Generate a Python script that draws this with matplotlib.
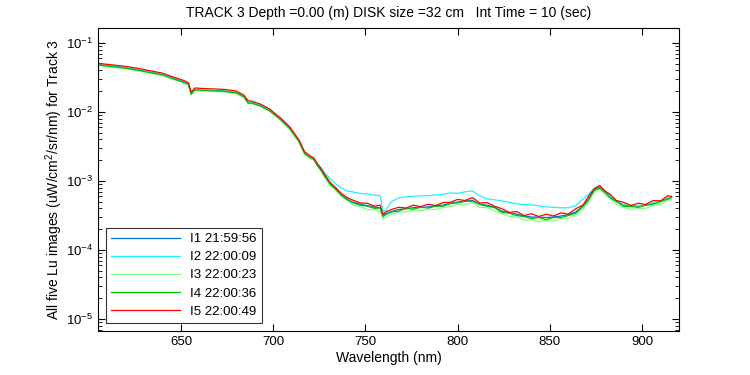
import matplotlib
matplotlib.use("Agg")
import matplotlib.pyplot as plt
from matplotlib.ticker import LogLocator, NullFormatter, MultipleLocator

# wavelength grid shared by all five scans (nm)
wavelength = [
    605, 612, 619, 626, 633, 640, 646, 651, 654, 655.5, 657.5, 662, 668, 674, 680, 684,
    686.5, 688, 693, 698, 704, 709, 714, 717, 720, 722, 724, 726, 728, 731, 734, 737, 740,
    743, 747, 751, 755, 758, 759.5, 761, 764, 768, 772, 776, 780, 784, 788, 792, 796,
    800, 804, 808, 812, 816, 820, 824, 828, 832, 836, 840, 844, 848, 852, 856, 860, 864,
    868, 871, 874, 877, 880, 883, 886, 890, 894, 898, 902, 906, 910, 914, 916,
]

lu_i1 = [
    4.84e-2, 4.60e-2, 4.38e-2, 4.09e-2, 3.76e-2, 3.47e-2, 3.03e-2, 2.74e-2, 2.52e-2, 1.83e-2,
    2.10e-2, 2.06e-2, 2.03e-2, 1.99e-2, 1.90e-2, 1.67e-2, 1.36e-2, 1.37e-2, 1.24e-2, 1.05e-2,
    7.78e-3, 5.76e-3, 3.74e-3, 2.51e-3, 2.20e-3, 2.06e-3, 1.68e-3, 1.43e-3, 1.17e-3, 8.95e-4,
    7.58e-4, 6.22e-4, 5.45e-4,
    4.95e-4, 4.60e-4, 4.40e-4, 4.15e-4, 4.10e-4, 3.15e-4, 3.35e-4, 3.60e-4, 3.85e-4, 3.95e-4,
    4.10e-4, 4.15e-4, 4.20e-4, 4.35e-4, 4.45e-4, 4.75e-4, 4.95e-4, 5.10e-4, 5.25e-4, 4.60e-4,
    4.45e-4, 4.15e-4, 3.65e-4, 3.45e-4, 3.30e-4, 3.10e-4, 3.00e-4, 3.00e-4, 2.95e-4, 3.00e-4,
    3.10e-4, 3.25e-4, 3.55e-4, 4.35e-4, 5.45e-4, 7.40e-4, 8.10e-4, 6.90e-4, 5.80e-4, 5.10e-4,
    4.45e-4, 4.30e-4, 4.35e-4, 4.45e-4, 4.75e-4, 5.10e-4, 5.60e-4, 5.85e-4,
]

lu_i2 = [
    4.84e-2, 4.60e-2, 4.38e-2, 4.09e-2, 3.76e-2, 3.47e-2, 3.03e-2, 2.74e-2, 2.52e-2, 1.83e-2,
    2.10e-2, 2.06e-2, 2.03e-2, 1.99e-2, 1.90e-2, 1.67e-2, 1.36e-2, 1.37e-2, 1.24e-2, 1.05e-2,
    7.78e-3, 5.76e-3, 3.74e-3, 2.51e-3, 2.20e-3, 2.06e-3, 1.75e-3, 1.55e-3, 1.30e-3, 1.07e-3,
    9.00e-4, 7.93e-4, 7.20e-4,
    6.94e-4, 6.60e-4, 6.49e-4, 6.20e-4, 6.08e-4, 3.60e-4, 3.70e-4, 4.98e-4, 5.69e-4, 5.88e-4,
    6.00e-4, 6.08e-4, 6.10e-4, 6.28e-4, 6.35e-4, 6.71e-4, 6.60e-4, 6.94e-4, 7.17e-4, 6.08e-4,
    5.50e-4, 5.32e-4, 5.14e-4, 4.90e-4, 4.66e-4, 4.55e-4, 4.51e-4, 4.35e-4, 4.21e-4, 4.15e-4,
    4.08e-4, 4.08e-4, 4.36e-4, 5.50e-4, 6.40e-4, 7.93e-4, 8.47e-4, 7.10e-4, 5.90e-4, 5.20e-4,
    4.55e-4, 4.40e-4, 4.40e-4, 4.50e-4, 4.80e-4, 5.10e-4, 5.70e-4, 5.90e-4,
]

lu_i3 = [
    4.70e-2, 4.46e-2, 4.25e-2, 3.97e-2, 3.65e-2, 3.36e-2, 2.94e-2, 2.66e-2, 2.45e-2, 1.78e-2,
    2.04e-2, 2.01e-2, 1.98e-2, 1.94e-2, 1.84e-2, 1.62e-2, 1.32e-2, 1.32e-2, 1.20e-2, 1.02e-2,
    7.55e-3, 5.60e-3, 3.62e-3, 2.44e-3, 2.13e-3, 2.00e-3, 1.63e-3, 1.38e-3, 1.13e-3, 8.65e-4,
    7.30e-4, 6.00e-4, 5.25e-4,
    4.50e-4, 4.25e-4, 3.85e-4, 3.85e-4, 3.65e-4, 2.85e-4, 3.00e-4, 3.30e-4, 3.50e-4, 3.60e-4,
    3.75e-4, 3.70e-4, 3.90e-4, 3.85e-4, 4.10e-4, 4.25e-4, 4.55e-4, 4.55e-4, 4.90e-4, 4.15e-4,
    4.10e-4, 3.70e-4, 3.35e-4, 3.05e-4, 3.00e-4, 2.70e-4, 2.75e-4, 2.55e-4, 2.70e-4, 2.60e-4,
    2.85e-4, 2.85e-4, 3.25e-4, 3.90e-4, 5.10e-4, 6.80e-4, 7.60e-4, 6.30e-4, 5.40e-4, 4.60e-4,
    4.15e-4, 3.85e-4, 4.00e-4, 4.00e-4, 4.45e-4, 4.55e-4, 5.20e-4, 5.40e-4,
]

lu_i4 = [
    4.80e-2, 4.55e-2, 4.33e-2, 4.05e-2, 3.72e-2, 3.43e-2, 3.00e-2, 2.71e-2, 2.50e-2, 1.80e-2,
    2.08e-2, 2.05e-2, 2.02e-2, 1.98e-2, 1.88e-2, 1.66e-2, 1.33e-2, 1.35e-2, 1.22e-2, 1.04e-2,
    7.70e-3, 5.70e-3, 3.70e-3, 2.49e-3, 2.18e-3, 2.04e-3, 1.67e-3, 1.41e-3, 1.15e-3, 8.85e-4,
    7.50e-4, 6.15e-4, 5.38e-4,
    4.85e-4, 4.45e-4, 4.30e-4, 4.00e-4, 4.05e-4, 3.05e-4, 3.25e-4, 3.55e-4, 3.65e-4, 4.00e-4,
    3.90e-4, 4.15e-4, 4.05e-4, 4.30e-4, 4.30e-4, 4.70e-4, 4.80e-4, 5.05e-4, 5.10e-4, 4.55e-4,
    4.30e-4, 4.10e-4, 3.50e-4, 3.40e-4, 3.15e-4, 3.05e-4, 2.85e-4, 2.95e-4, 2.75e-4, 2.95e-4,
    2.95e-4, 3.15e-4, 3.40e-4, 4.25e-4, 5.30e-4, 7.30e-4, 7.90e-4, 6.80e-4, 5.60e-4, 5.05e-4,
    4.30e-4, 4.25e-4, 4.15e-4, 4.45e-4, 4.60e-4, 5.00e-4, 5.45e-4, 5.75e-4,
]

lu_i5 = [
    5.05e-2, 4.82e-2, 4.60e-2, 4.30e-2, 3.95e-2, 3.64e-2, 3.18e-2, 2.88e-2, 2.65e-2, 1.93e-2,
    2.22e-2, 2.18e-2, 2.15e-2, 2.11e-2, 2.00e-2, 1.76e-2, 1.44e-2, 1.44e-2, 1.30e-2, 1.10e-2,
    8.15e-3, 6.05e-3, 3.93e-3, 2.64e-3, 2.31e-3, 2.16e-3, 1.77e-3, 1.50e-3, 1.23e-3, 9.40e-4,
    7.95e-4, 6.55e-4, 5.75e-4,
    5.30e-4, 4.80e-4, 4.75e-4, 4.30e-4, 4.45e-4, 3.30e-4, 3.55e-4, 3.85e-4, 4.15e-4, 4.05e-4,
    4.45e-4, 4.25e-4, 4.60e-4, 4.40e-4, 4.85e-4, 4.90e-4, 5.40e-4, 5.20e-4, 5.75e-4, 4.80e-4,
    4.85e-4, 4.30e-4, 3.95e-4, 3.50e-4, 3.60e-4, 3.15e-4, 3.35e-4, 3.05e-4, 3.30e-4, 3.10e-4,
    3.45e-4, 3.30e-4, 3.95e-4, 4.50e-4, 6.00e-4, 7.60e-4, 8.60e-4, 7.10e-4, 6.30e-4, 5.20e-4,
    4.90e-4, 4.40e-4, 4.75e-4, 4.55e-4, 5.20e-4, 5.15e-4, 6.10e-4, 5.95e-4,
]

labels = ["I1 21:59:56", "I2 22:00:09", "I3 22:00:23", "I4 22:00:36", "I5 22:00:49"]
colors = ["#0070e0", "#20f0ff", "#80ff80", "#00c000", "#ff0000"]

plt.rcParams["font.family"] = ["Liberation Sans", "DejaVu Sans"]
plt.rcParams["mathtext.fontset"] = "custom"
plt.rcParams["mathtext.rm"] = "Liberation Sans"

fig = plt.figure(figsize=(7.5, 3.75), dpi=100)
ax = fig.add_axes([0.1307, 0.1173, 0.7746, 0.808])

for series, lab, col in zip([lu_i1, lu_i2, lu_i3, lu_i4, lu_i5], labels, colors):
    ax.plot(wavelength, series, color=col, lw=0.9, label=lab)

ax.set_yscale("log")
ax.set_xlim(605, 920)
ax.set_ylim(6.7e-6, 0.164)
ax.xaxis.set_major_locator(MultipleLocator(50))
ax.yaxis.set_major_locator(LogLocator(base=10, numticks=10))
ax.yaxis.set_minor_locator(LogLocator(base=10, subs=range(2, 10), numticks=10))
ax.yaxis.set_minor_formatter(NullFormatter())
ax.tick_params(which="both", direction="in", top=True, right=True, labelsize=9.5)
ax.tick_params(which="major", length=5, width=0.8)
ax.tick_params(which="minor", length=3, width=0.6)
for s in ax.spines.values():
    s.set_linewidth(0.8)

ax.set_xlabel("Wavelength (nm)", fontsize=10, labelpad=2)
ax.set_ylabel("All five Lu images (uW/cm$^2$/sr/nm) for Track 3", fontsize=10, labelpad=1)
ax.set_title("TRACK 3 Depth =0.00 (m) DISK size =32 cm   Int Time = 10 (sec)", fontsize=10, pad=8)

leg = ax.legend(loc="lower left", fontsize=9.5, frameon=True, fancybox=False,
                edgecolor="black", handlelength=5.2, borderaxespad=0.6, labelspacing=0.45)
leg.get_frame().set_linewidth(0.8)

fig.savefig("out.png", dpi=100)
